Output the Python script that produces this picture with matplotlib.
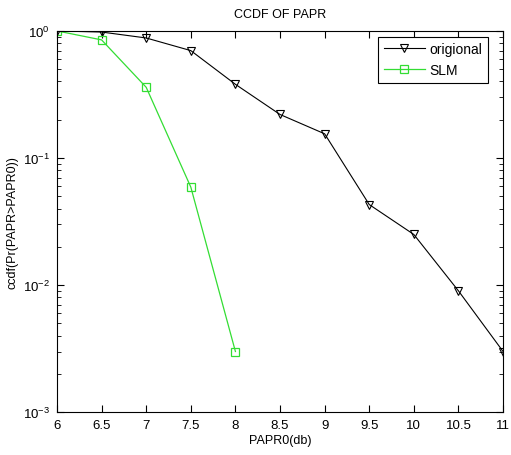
import matplotlib
matplotlib.use("Agg")
import matplotlib.pyplot as plt

plt.rcParams['font.family'] = ['Liberation Sans', 'DejaVu Sans']

papr0 = [6, 6.5, 7, 7.5, 8, 8.5, 9, 9.5, 10, 10.5, 11]
ccdf_orig = [1.0, 0.98, 0.88, 0.70, 0.38, 0.22, 0.155, 0.043, 0.025, 0.009, 0.003]

papr0_slm = [6, 6.5, 7, 7.5, 8]
ccdf_slm = [1.0, 0.85, 0.36, 0.059, 0.003]

fig = plt.figure(figsize=(5.11, 4.56), dpi=100)
ax = fig.add_axes([0.1115, 0.094, 0.873, 0.836])

ax.semilogy(papr0, ccdf_orig, color="black", linewidth=0.8, marker="v",
            markersize=6, markerfacecolor="none", markeredgewidth=0.8,
            label="origional")
ax.semilogy(papr0_slm, ccdf_slm, color="#33dd33", linewidth=0.9, marker="s",
            markersize=6, markerfacecolor="none", markeredgewidth=0.9,
            label="SLM")

ax.set_xlim(6, 11)
ax.set_ylim(1e-3, 1)
ax.set_xticks([6, 6.5, 7, 7.5, 8, 8.5, 9, 9.5, 10, 10.5, 11])
ax.set_xticklabels(["6", "6.5", "7", "7.5", "8", "8.5", "9", "9.5", "10", "10.5", "11"])
ax.tick_params(which="both", direction="in", top=True, right=True, labelsize=9.5)
ax.tick_params(which="major", length=5, pad=5)
ax.tick_params(which="minor", length=3)

ax.set_title("CCDF OF PAPR", fontsize=9, pad=10)
ax.set_xlabel("PAPR0(db)", fontsize=9, labelpad=2)
ax.set_ylabel("ccdf(Pr(PAPR>PAPR0))", fontsize=9, labelpad=3)

leg = ax.legend(loc="upper right", bbox_to_anchor=(0.966, 0.985),
                fontsize=10, fancybox=False, framealpha=1,
                edgecolor="black", handlelength=3.0, borderpad=0.4,
                labelspacing=0.5, handletextpad=0.3, borderaxespad=0)
leg.get_frame().set_linewidth(0.8)

plt.savefig("out.png", dpi=100)
